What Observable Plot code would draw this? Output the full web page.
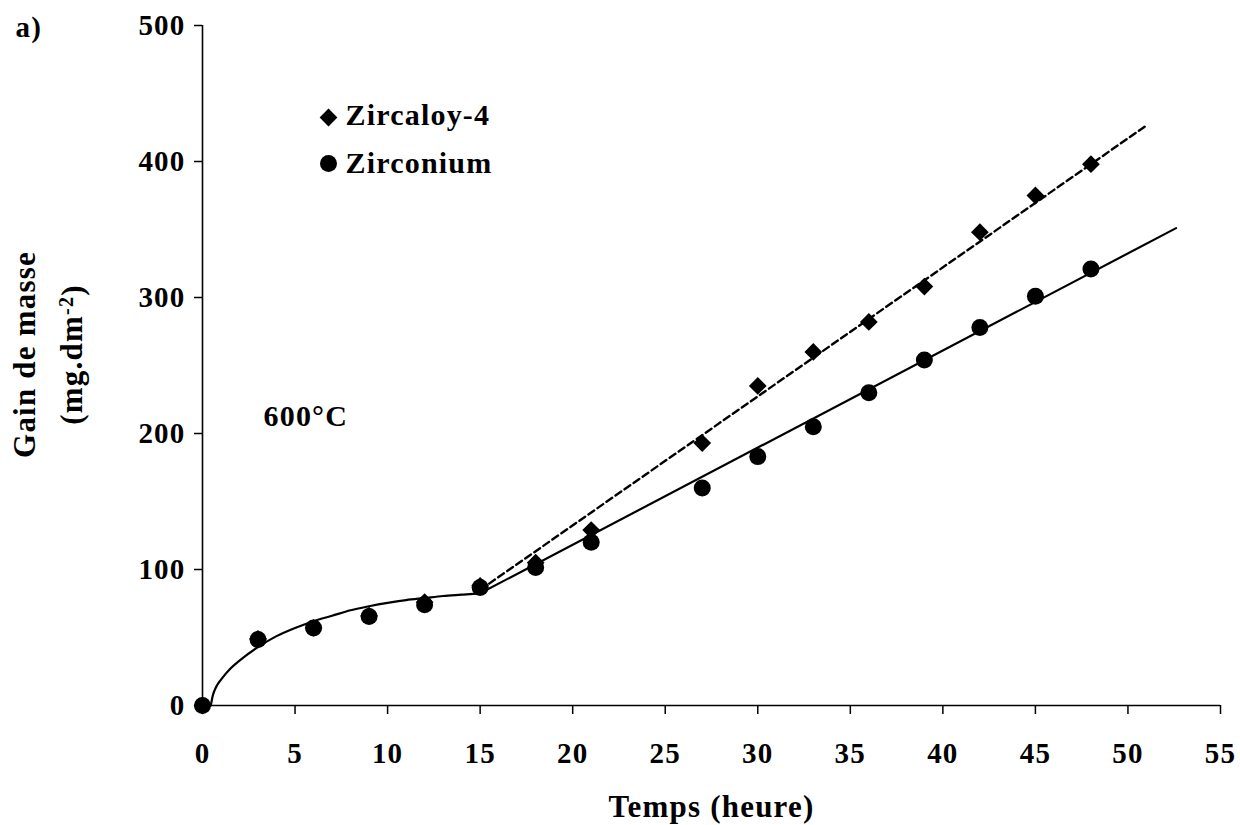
<!DOCTYPE html>
<html>
<head>
<meta charset="utf-8">
<script src="https://cdn.jsdelivr.net/npm/d3@7"></script>
<script src="https://cdn.jsdelivr.net/npm/@observablehq/plot@0.6"></script>
<style>
  html, body { margin: 0; padding: 0; background: #fff; }
  #chart svg text { letter-spacing: 1.2px; }
</style>
</head>
<body>
<div id="chart"></div>
<script>
// ---- data ----
const hours = [0, 3, 6, 9, 12, 15, 18, 21, 27, 30, 33, 36, 39, 42, 45, 48];
const zircaloy4 = [0, 49, 57, 66, 76, 88, 105, 129, 193, 235, 260, 282, 308, 348, 375, 398];
const zirconium = [0, 48.5, 57, 65.5, 74, 86.8, 101.5, 120, 160, 183, 205, 230, 254, 278, 301, 321];

// fitted curves (as drawn in the reference)
const zrCurveX = [0.45, 0.55, 0.75, 1, 1.5, 2, 3, 4, 5, 6, 7, 8, 9, 10, 11, 12, 13, 14, 15];
const zrCurveY = [0, 7, 14, 19, 27, 33, 43, 51, 57, 62, 66, 70, 73, 75.5, 77.5, 79, 80.5, 81.5, 82.5];
const zrLineX = [15, 52.6];
const zrLineY = [82.5, 351];
const zy4LineX = [15, 51];
const zy4LineY = [85, 426.5];

const xTicks = [0, 5, 10, 15, 20, 25, 30, 35, 40, 45, 50, 55];
const yTicks = [0, 100, 200, 300, 400, 500];
const xLabel = "Temps (heure)";
const yLabel1 = "Gain de masse";
const yLabel2 = "(mg.dm-2)";
const tempLabel = "600°C";
const panelLabel = "a)";
const seriesNames = ["Zircaloy-4", "Zirconium"];

// ---- build tables ----
const ptsZy4 = hours.map((h, i) => ({x: h, y: zircaloy4[i]}));
const ptsZr = hours.map((h, i) => ({x: h, y: zirconium[i]}));
const curveZr = zrCurveX.map((x, i) => ({x, y: zrCurveY[i]}));
const lineZr = zrLineX.map((x, i) => ({x, y: zrLineY[i]}));
const lineZy4 = zy4LineX.map((x, i) => ({x, y: zy4LineY[i]}));

const font = "'Liberation Serif', 'Times New Roman', serif";

const chart = Plot.plot({
  width: 1240,
  height: 825,
  marginLeft: 202,
  marginRight: 20,
  marginTop: 25,
  marginBottom: 120,
  x: {domain: [0, 55]},
  y: {domain: [0, 500]},
  style: {fontFamily: font, fontWeight: "bold", fontSize: "29px", color: "black", background: "white"},
  marks: [
    Plot.ruleY([0], {stroke: "black", strokeWidth: 1.6}),
    Plot.ruleX([0], {stroke: "black", strokeWidth: 1.6}),
    Plot.axisX({ticks: xTicks, tickSize: 9, tickPadding: 28, label: null, strokeWidth: 1.5, fontSize: 29, fontWeight: "bold"}),
    Plot.axisY({ticks: yTicks, tickSize: 8, tickPadding: 9, label: null, strokeWidth: 1.5, fontSize: 29, fontWeight: "bold"}),
    // fits
    Plot.line(curveZr, {x: "x", y: "y", curve: "monotone-x", stroke: "black", strokeWidth: 2.2}),
    Plot.line(lineZr, {x: "x", y: "y", stroke: "black", strokeWidth: 2.2}),
    Plot.line(lineZy4, {x: "x", y: "y", stroke: "black", strokeWidth: 2.4, strokeDasharray: "7,4"}),
    // points
    Plot.dot(ptsZy4, {x: "x", y: "y", symbol: "diamond2", r: 8, fill: "black", stroke: "none"}),
    Plot.dot(ptsZr, {x: "x", y: "y", symbol: "circle", r: 8.5, fill: "black", stroke: "none"}),
    // legend
    Plot.dot([seriesNames[0]], {frameAnchor: "top-left", dx: 126, dy: 92, symbol: "diamond2", r: 8, fill: "black", stroke: "none"}),
    Plot.text([seriesNames[0]], {frameAnchor: "top-left", dx: 143, dy: 99, lineAnchor: "bottom", textAnchor: "start", fontSize: 30, fontWeight: "bold"}),
    Plot.dot([seriesNames[1]], {frameAnchor: "top-left", dx: 126, dy: 138, symbol: "circle", r: 8.5, fill: "black", stroke: "none"}),
    Plot.text([seriesNames[1]], {frameAnchor: "top-left", dx: 143, dy: 147, lineAnchor: "bottom", textAnchor: "start", fontSize: 30, fontWeight: "bold"}),
    // annotations
    Plot.text([tempLabel], {frameAnchor: "top-left", dx: 61, dy: 400, lineAnchor: "bottom", textAnchor: "start", fontSize: 30, fontWeight: "bold"}),
    Plot.text([panelLabel], {frameAnchor: "top-left", dx: -187, dy: 11, lineAnchor: "bottom", textAnchor: "start", fontSize: 29, fontWeight: "bold"}),
    // axis titles
    Plot.text([xLabel], {frameAnchor: "bottom", dy: 111, lineAnchor: "bottom", textAnchor: "middle", fontSize: 31, fontWeight: "bold"}),
    Plot.text([yLabel1], {frameAnchor: "left", dx: -177, dy: -11, rotate: -90, lineAnchor: "middle", textAnchor: "middle", fontSize: 31, fontWeight: "bold"}),
    Plot.text([yLabel2], {frameAnchor: "left", dx: -130, dy: -11, rotate: -90, lineAnchor: "middle", textAnchor: "middle", fontSize: 31, fontWeight: "bold"})
  ]
});

// superscript for the unit
chart.querySelectorAll("text").forEach(t => {
  if (t.textContent === yLabel2) {
    const NS = "http://www.w3.org/2000/svg";
    while (t.firstChild) t.removeChild(t.firstChild);
    const a = document.createElementNS(NS, "tspan"); a.textContent = "(mg.dm";
    const b = document.createElementNS(NS, "tspan"); b.textContent = "-2";
    b.setAttribute("dy", "-0.45em"); b.setAttribute("font-size", "0.65em");
    const c = document.createElementNS(NS, "tspan"); c.textContent = ")";
    c.setAttribute("dy", "0.3em");
    t.appendChild(a); t.appendChild(b); t.appendChild(c);
  }
});

document.getElementById("chart").appendChild(chart);
</script>
</body>
</html>
